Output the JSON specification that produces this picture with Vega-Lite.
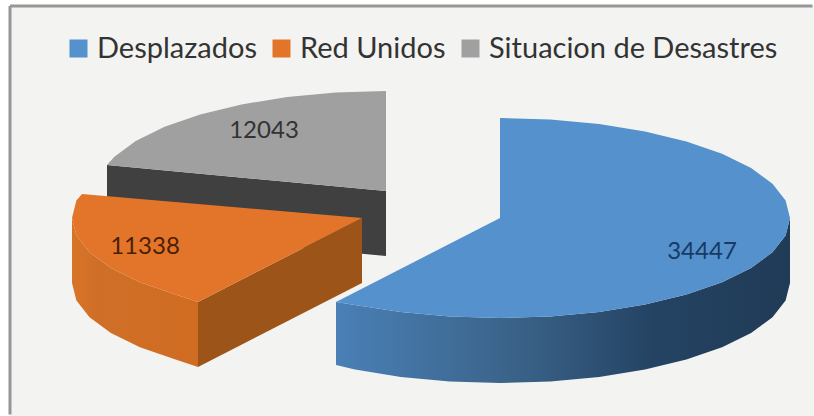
{
  "$schema": "https://vega.github.io/schema/vega-lite/v6.json",
  "width": 814,
  "height": 416,
  "padding": 0,
  "autosize": {"type": "fit", "contains": "padding"},
  "background": "#ffffff",
  "view": {"stroke": null},
  "config": {"font": "Lato"},
  "datasets": {
    "frame": [{"x": 10, "x2": 814, "y": 6, "y2": 416}],
    "frameEdges": [
      {"x": 10, "x2": 812.5, "y": 6, "y2": 6},
      {"x": 10, "x2": 10, "y": 6, "y2": 414.5}
    ],
    "darkWall": [
      {"order": 1, "x": 107, "y": 165}, {"order": 2, "x": 386, "y": 191},
      {"order": 3, "x": 386, "y": 256}, {"order": 4, "x": 107, "y": 230}
    ],
    "orangeRim": [
      {"order": 1, "x": 72, "y": 218}, {"order": 2, "x": 76.4, "y": 235.4},
      {"order": 3, "x": 89.5, "y": 252.2}, {"order": 4, "x": 110.9, "y": 268},
      {"order": 5, "x": 139.9, "y": 282.3}, {"order": 6, "x": 175.6, "y": 294.6},
      {"order": 7, "x": 198, "y": 302}, {"order": 8, "x": 198, "y": 367},
      {"order": 9, "x": 175.6, "y": 359.6}, {"order": 10, "x": 139.9, "y": 347.3},
      {"order": 11, "x": 110.9, "y": 333}, {"order": 12, "x": 89.5, "y": 317.2},
      {"order": 13, "x": 76.4, "y": 300.4}, {"order": 14, "x": 72, "y": 283}
    ],
    "orangeCut": [
      {"order": 1, "x": 362, "y": 218}, {"order": 2, "x": 198, "y": 302},
      {"order": 3, "x": 198, "y": 367}, {"order": 4, "x": 362, "y": 283}
    ],
    "blueRim": [
      {"order": 1, "x": 790, "y": 218}, {"order": 2, "x": 785.6, "y": 235.4},
      {"order": 3, "x": 772.5, "y": 252.2}, {"order": 4, "x": 751.1, "y": 268},
      {"order": 5, "x": 722.1, "y": 282.3}, {"order": 6, "x": 686.4, "y": 294.6},
      {"order": 7, "x": 645, "y": 304.6}, {"order": 8, "x": 599.2, "y": 312},
      {"order": 9, "x": 550.3, "y": 316.5}, {"order": 10, "x": 500, "y": 318},
      {"order": 11, "x": 449.7, "y": 316.5}, {"order": 12, "x": 400.8, "y": 312},
      {"order": 13, "x": 355, "y": 305}, {"order": 14, "x": 336, "y": 302},
      {"order": 15, "x": 336, "y": 365}, {"order": 16, "x": 355, "y": 369.6},
      {"order": 17, "x": 400.8, "y": 377}, {"order": 18, "x": 449.7, "y": 381.5},
      {"order": 19, "x": 500, "y": 383}, {"order": 20, "x": 550.3, "y": 381.5},
      {"order": 21, "x": 599.2, "y": 377}, {"order": 22, "x": 645, "y": 369.6},
      {"order": 23, "x": 686.4, "y": 359.6}, {"order": 24, "x": 722.1, "y": 347.3},
      {"order": 25, "x": 751.1, "y": 333}, {"order": 26, "x": 772.5, "y": 317.2},
      {"order": 27, "x": 785.6, "y": 300.4}, {"order": 28, "x": 790, "y": 283}
    ],
    "tops": [
      {"slice": "Desplazados", "order": 1, "x": 500, "y": 218},
      {"slice": "Desplazados", "order": 2, "x": 500, "y": 118},
      {"slice": "Desplazados", "order": 3, "x": 550.3, "y": 119.5},
      {"slice": "Desplazados", "order": 4, "x": 599.2, "y": 124},
      {"slice": "Desplazados", "order": 5, "x": 645, "y": 131.4},
      {"slice": "Desplazados", "order": 6, "x": 686.4, "y": 141.4},
      {"slice": "Desplazados", "order": 7, "x": 722.1, "y": 153.7},
      {"slice": "Desplazados", "order": 8, "x": 751.1, "y": 168},
      {"slice": "Desplazados", "order": 9, "x": 772.5, "y": 183.8},
      {"slice": "Desplazados", "order": 10, "x": 785.6, "y": 200.6},
      {"slice": "Desplazados", "order": 11, "x": 790, "y": 218},
      {"slice": "Desplazados", "order": 12, "x": 785.6, "y": 235.4},
      {"slice": "Desplazados", "order": 13, "x": 772.5, "y": 252.2},
      {"slice": "Desplazados", "order": 14, "x": 751.1, "y": 268},
      {"slice": "Desplazados", "order": 15, "x": 722.1, "y": 282.3},
      {"slice": "Desplazados", "order": 16, "x": 686.4, "y": 294.6},
      {"slice": "Desplazados", "order": 17, "x": 645, "y": 304.6},
      {"slice": "Desplazados", "order": 18, "x": 599.2, "y": 312},
      {"slice": "Desplazados", "order": 19, "x": 550.3, "y": 316.5},
      {"slice": "Desplazados", "order": 20, "x": 500, "y": 318},
      {"slice": "Desplazados", "order": 21, "x": 449.7, "y": 316.5},
      {"slice": "Desplazados", "order": 22, "x": 400.8, "y": 312},
      {"slice": "Desplazados", "order": 23, "x": 355, "y": 305},
      {"slice": "Desplazados", "order": 24, "x": 336, "y": 302},
      {"slice": "Red Unidos", "order": 1, "x": 362, "y": 218},
      {"slice": "Red Unidos", "order": 2, "x": 198, "y": 302},
      {"slice": "Red Unidos", "order": 3, "x": 175.6, "y": 294.6},
      {"slice": "Red Unidos", "order": 4, "x": 139.9, "y": 282.3},
      {"slice": "Red Unidos", "order": 5, "x": 110.9, "y": 268},
      {"slice": "Red Unidos", "order": 6, "x": 89.5, "y": 252.2},
      {"slice": "Red Unidos", "order": 7, "x": 76.4, "y": 235.4},
      {"slice": "Red Unidos", "order": 8, "x": 72, "y": 218},
      {"slice": "Red Unidos", "order": 9, "x": 76.4, "y": 200.6},
      {"slice": "Red Unidos", "order": 10, "x": 82, "y": 194},
      {"slice": "Situacion de Desastres", "order": 1, "x": 386, "y": 191},
      {"slice": "Situacion de Desastres", "order": 2, "x": 107, "y": 165},
      {"slice": "Situacion de Desastres", "order": 3, "x": 114.4, "y": 156.8},
      {"slice": "Situacion de Desastres", "order": 4, "x": 135.7, "y": 141},
      {"slice": "Situacion de Desastres", "order": 5, "x": 164.6, "y": 126.7},
      {"slice": "Situacion de Desastres", "order": 6, "x": 200.2, "y": 114.4},
      {"slice": "Situacion de Desastres", "order": 7, "x": 241.5, "y": 104.4},
      {"slice": "Situacion de Desastres", "order": 8, "x": 287.2, "y": 97},
      {"slice": "Situacion de Desastres", "order": 9, "x": 335.8, "y": 92.5},
      {"slice": "Situacion de Desastres", "order": 10, "x": 386, "y": 91}
    ],
    "labels": [
      {"slice": "Desplazados", "value": 34447, "x": 702, "y": 252, "ink": "#173a66"},
      {"slice": "Red Unidos", "value": 11338, "x": 145, "y": 247, "ink": "#4a1f05"},
      {"slice": "Situacion de Desastres", "value": 12043, "x": 264, "y": 131, "ink": "#333333"}
    ]
  },
  "encoding": {
    "x": {"field": "x", "type": "quantitative", "scale": {"domain": [0, 814], "nice": false, "zero": false}, "axis": null},
    "y": {"field": "y", "type": "quantitative", "scale": {"domain": [416, 0], "nice": false, "zero": false}, "axis": null},
    "order": {"field": "order", "type": "ordinal"}
  },
  "layer": [
    {
      "data": {"name": "frame"},
      "mark": {"type": "rect", "fill": "#f3f3f1"},
      "encoding": {
        "x2": {"field": "x2"},
        "y2": {"field": "y2"},
        "order": null
      }
    },
    {
      "data": {"name": "frameEdges"},
      "mark": {"type": "rule", "stroke": "#969696", "strokeWidth": 3},
      "encoding": {
        "x2": {"field": "x2"},
        "y2": {"field": "y2"},
        "order": null
      }
    },
    {
      "data": {"name": "darkWall"},
      "mark": {"type": "line", "fill": "#404040", "stroke": null}
    },
    {
      "data": {"name": "orangeRim"},
      "mark": {
        "type": "line",
        "stroke": null,
        "fill": {
          "gradient": "linear", "x1": 0, "y1": 0, "x2": 1, "y2": 0,
          "stops": [
            {"offset": 0, "color": "#d87428"},
            {"offset": 0.2, "color": "#cf6f27"},
            {"offset": 1, "color": "#d06c22"}
          ]
        }
      }
    },
    {
      "data": {"name": "orangeCut"},
      "mark": {"type": "line", "fill": "#9c5419", "stroke": null}
    },
    {
      "data": {"name": "blueRim"},
      "mark": {
        "type": "line",
        "stroke": null,
        "fill": {
          "gradient": "linear", "x1": 0, "y1": 0, "x2": 1, "y2": 0,
          "stops": [
            {"offset": 0, "color": "#4a80b6"},
            {"offset": 0.4, "color": "#3a6288"},
            {"offset": 0.7, "color": "#244363"},
            {"offset": 1, "color": "#203b56"}
          ]
        }
      }
    },
    {
      "data": {"name": "tops"},
      "mark": {"type": "line", "filled": true, "strokeWidth": 0},
      "encoding": {
        "color": {
          "field": "slice",
          "type": "nominal",
          "scale": {
            "domain": ["Desplazados", "Red Unidos", "Situacion de Desastres"],
            "range": ["#5591cd", "#e3752a", "#a0a0a0"]
          },
          "legend": {
            "title": null,
            "orient": "none",
            "legendX": 64,
            "legendY": 34,
            "direction": "horizontal",
            "columns": 3,
            "gridAlign": "none",
            "symbolType": "square",
            "symbolSize": 324,
            "symbolStrokeWidth": 0,
            "labelFont": "Lato",
            "labelFontSize": 29,
            "labelColor": "#333333",
            "labelOffset": 4,
            "columnPadding": 10,
            "labelLimit": 400,
            "padding": 0
          }
        }
      }
    },
    {
      "data": {"name": "labels"},
      "mark": {"type": "text", "fontSize": 24, "font": "Lato", "align": "center", "baseline": "middle"},
      "encoding": {
        "text": {"field": "value", "type": "quantitative", "format": "d"},
        "fill": {"field": "ink", "type": "nominal", "scale": null},
        "order": null
      }
    }
  ]
}
